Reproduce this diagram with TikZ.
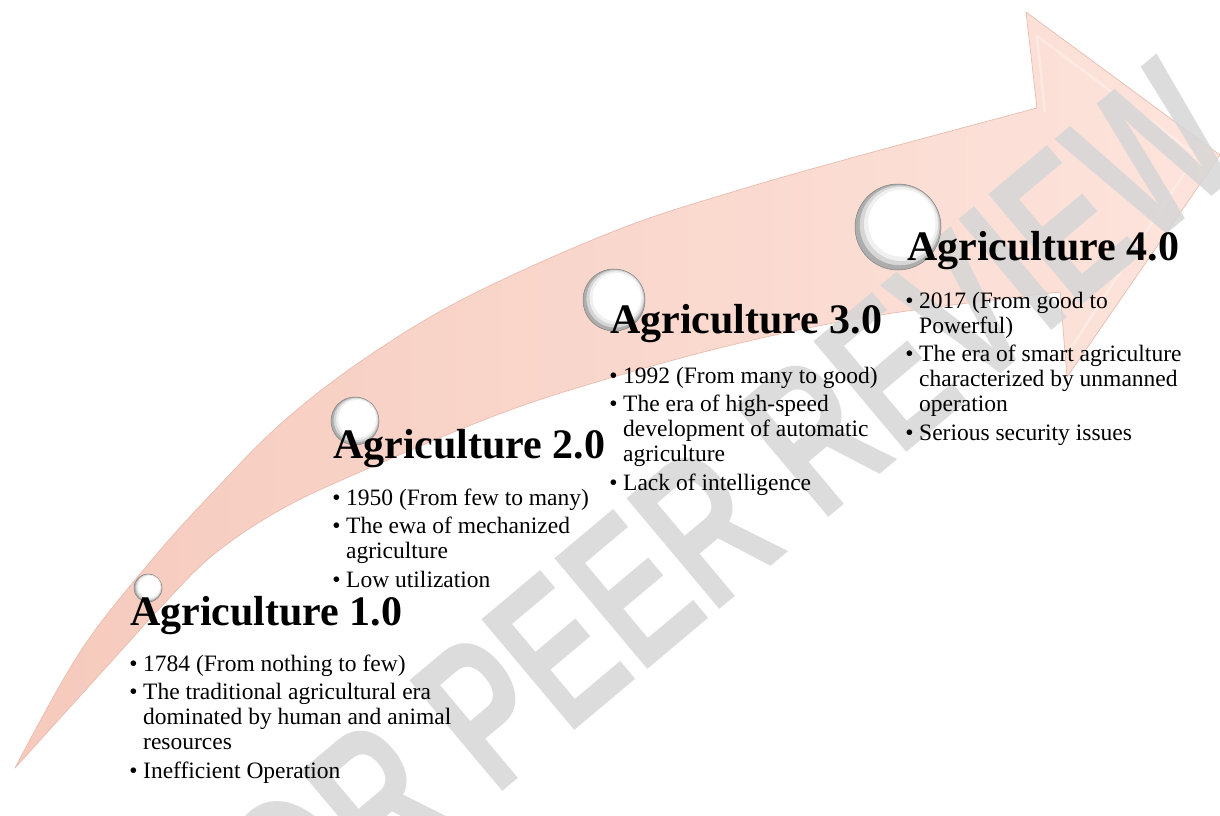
\documentclass[tikz,border=0pt]{standalone}
\usepackage{fontspec}
\setmainfont{Liberation Serif}
\newfontfamily\wmfont{Liberation Sans}
\definecolor{arrowL}{RGB}{246,202,189}
\definecolor{arrowR}{RGB}{253,228,220}
\definecolor{arrowEdge}{RGB}{234,188,174}
\definecolor{wmgray}{RGB}{214,214,214}
\newcommand\bul{\leavevmode\llap{\textbullet\hspace{5.5pt}}}
\begin{document}
\begin{tikzpicture}[x=1pt,y=-1pt,
  titletxt/.style={anchor=base west, inner sep=0pt, font=\bfseries\fontsize{42}{42}\selectfont},
  bodytxt/.style={anchor=base west, inner sep=0pt, font=\fontsize{23.5}{25}\selectfont},
  bubble/.style={circle, inner sep=0pt, fill=black!32, draw=black!50, line width=0.5pt},
  wmark/.style={anchor=base west, inner sep=0pt, text=wmgray, opacity=0.85,
    font=\wmfont\bfseries\fontsize{210}{210}\selectfont, rotate=40, xscale=0.675},
  arrowbody/.style={left color=arrowL, right color=arrowR, draw=arrowEdge, line width=0.7pt, line join=round},
  bevel/.style={draw=white, opacity=0.3, line width=2.5pt, line join=round}]
\useasboundingbox (0,0) rectangle (1220,815);
\clip (0,0) rectangle (1220,815);
\fill[white] (0,0) rectangle (1220,815);
% curved arrow
\path[arrowbody]
  plot[smooth, tension=0.6] coordinates {(15,768) (80,652) (150,562) (215,490) (285,420) (370,355) (471,295) (617,230) (739,190) (873,152) (1037,108)}
  -- (1026,12) -- (1220,155) -- (1067,377) -- (1060,292)
  -- plot[smooth, tension=0.6] coordinates {(1060,292) (880,315) (740,343) (600,381) (494,416) (360,472) (280,510) (213,555) (160,608) (120,652) (15,768)}
  -- cycle;
\draw[bevel] (1045,112) -- (1037,36) -- (1196,155) -- (1071,348);
% watermark
\node[wmark] (wm) at (236,1015) {FOR PEER REVIEW};
% bubbles
\node[bubble, minimum size=28pt] (c1) at (148,588) {};
\node[bubble, minimum size=48pt] (c2) at (355,421) {};
\node[bubble, minimum size=62pt] (c3) at (614,300) {};
\node[bubble, minimum size=86pt] (c4) at (898,227) {};
\foreach \n/\r in {c1/14,c2/24,c3/31,c4/43}{
  \fill[black!16] ([shift={({0.04*\r},{-0.04*\r})}]\n.center) circle ({0.93*\r pt});
  \fill[black!6] ([shift={({0.07*\r},{-0.07*\r})}]\n.center) circle ({0.86*\r pt});
  \fill[white] ([shift={({0.09*\r},{-0.09*\r})}]\n.center) circle ({0.78*\r pt});
}
% titles
\node[titletxt] (t1) at (130,625) {Agriculture 1.0};
\node[titletxt] (t2) at (333,458) {Agriculture 2.0};
\node[titletxt] (t3) at (610,333) {Agriculture 3.0};
\node[titletxt] (t4) at (907,260) {Agriculture 4.0};
% bodies
\node[bodytxt] (b1) at (143,671) {\parbox[t]{330pt}{\bul 1784 (From nothing to few)\\[3.5pt]\bul The traditional agricultural era\\dominated by human and animal\\resources\\[3.5pt]\bul Inefficient Operation}};
\node[bodytxt] (b2) at (346,505) {\parbox[t]{300pt}{\bul 1950 (From few to many)\\[3.5pt]\bul The ewa of mechanized\\agriculture\\[3.5pt]\bul Low utilization}};
\node[bodytxt] (b3) at (623,383) {\parbox[t]{300pt}{\bul 1992 (From many to good)\\[3.5pt]\bul The era of high-speed\\development of automatic\\agriculture\\[3.5pt]\bul Lack of intelligence}};
\node[bodytxt] (b4) at (919,308) {\parbox[t]{300pt}{\bul 2017 (From good to\\Powerful)\\[3.5pt]\bul The era of smart agriculture\\characterized by unmanned\\operation\\[3.5pt]\bul Serious security issues}};
\end{tikzpicture}
\end{document}
